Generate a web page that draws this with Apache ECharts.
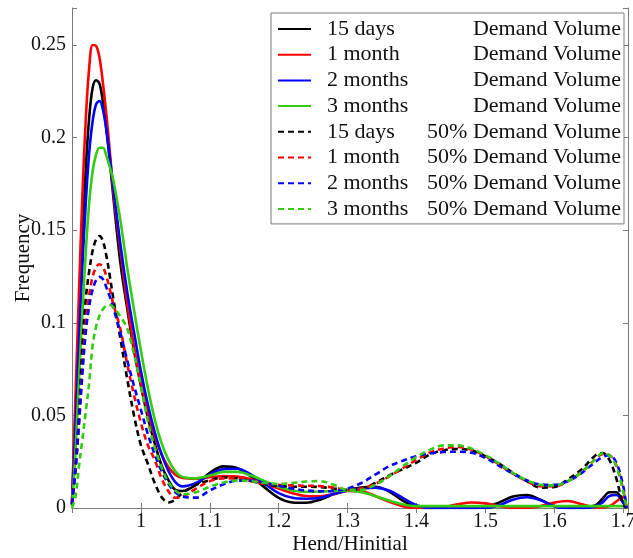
<!DOCTYPE html>
<html>
<head>
<meta charset="utf-8">
<script src="https://cdn.jsdelivr.net/npm/echarts@6/dist/echarts.min.js"></script>
<style>html,body{margin:0;padding:0;background:#fff}#c{width:633px;height:558px}</style>
</head>
<body>
<div id="c"></div>
<script>
const xs = [0.9,0.905,0.91,0.915,0.92,0.925,0.93,0.935,0.94,0.945,0.95,0.955,0.96,0.97,0.98,0.99,1.0,1.01,1.02,1.03,1.04,1.05,1.06,1.08,1.1,1.12,1.14,1.16,1.18,1.2,1.22,1.24,1.26,1.28,1.3,1.32,1.34,1.36,1.38,1.4,1.42,1.44,1.46,1.48,1.5,1.52,1.54,1.56,1.58,1.6,1.62,1.64,1.66,1.67,1.68,1.69,1.7,1.705];

const days15Full = [0.003,0.05,0.10,0.145,0.183,0.211,0.227,0.231,0.229,0.219,0.204,0.187,0.168,
  0.133,0.108,0.085,0.066,0.049,0.035,0.023,0.015,0.0098,0.0092,
  0.0125,0.019,0.0225,0.0215,0.017,0.011,0.0055,
  0.003,0.0028,0.0045,0.0075,0.0097,
  0.011,0.0115,0.009,0.004,0.0005,
  0,0,0,0,0.0005,
  0.003,0.0062,0.007,0.0045,0.001,
  0,0,0.0015,0.005,0.0085,0.0085,0.003,0];
const month1Full = [0.003,0.06,0.115,0.168,0.21,0.238,0.25,0.2495,0.243,0.229,0.212,0.192,0.171,
  0.140,0.111,0.087,0.068,0.052,0.039,0.029,0.022,0.018,0.0162,
  0.0158,0.0166,0.0173,0.017,0.0155,0.013,0.0105,
  0.008,0.0065,0.0063,0.0075,0.0092,
  0.009,0.0065,0.0035,0.001,0,
  0,0.0005,0.002,0.003,0.0025,
  0.001,0,0,0.001,0.003,
  0.0038,0.002,0.0003,0.0003,0.001,0.0035,0.006,0];
const months2Full = [0.002,0.042,0.088,0.13,0.165,0.192,0.209,0.218,0.2198,0.215,0.204,0.189,0.173,
  0.143,0.117,0.095,0.074,0.056,0.041,0.029,0.020,0.014,0.0117,
  0.0135,0.018,0.021,0.0212,0.018,0.013,0.008,
  0.0055,0.005,0.0055,0.0075,0.0095,
  0.0105,0.011,0.0095,0.0055,0.0015,
  0,0,0,0,0,
  0.0015,0.0045,0.0058,0.0042,0.001,
  0,0,0.0008,0.003,0.0065,0.007,0.003,0];
const months3Full = [0.001,0.03,0.068,0.105,0.138,0.165,0.182,0.191,0.1945,0.1945,0.19,0.184,0.177,
  0.156,0.130,0.107,0.085,0.065,0.048,0.035,0.026,0.0198,0.0168,
  0.016,0.0175,0.0195,0.0195,0.0175,0.0145,0.0115,
  0.0095,0.0088,0.0088,0.0092,0.0093,
  0.0085,0.0065,0.004,0.002,0.001,
  0.001,0.001,0.001,0.001,0.001,
  0.001,0.001,0.001,0.001,0.001,
  0.001,0.001,0.001,0.001,0.001,0.001,0.001,0];
const days15Half = [0.002,0.022,0.05,0.087,0.113,0.128,0.139,0.145,0.1469,0.144,0.136,0.125,0.113,
  0.092,0.070,0.050,0.034,0.024,0.0135,0.006,0.003,0.0045,0.008,
  0.0125,0.015,0.0165,0.016,0.0145,0.013,0.012,
  0.0115,0.0115,0.0113,0.0105,0.0098,
  0.0105,0.0135,0.0175,0.021,0.0245,
  0.029,0.0312,0.0319,0.031,0.028,
  0.024,0.019,0.0145,0.011,0.0113,
  0.0155,0.021,0.0285,0.0297,0.026,0.016,0.002,0];
const month1Half = [0.002,0.02,0.045,0.075,0.1,0.115,0.125,0.13,0.1316,0.13,0.125,0.118,0.110,
  0.097,0.078,0.061,0.046,0.034,0.026,0.016,0.009,0.0055,0.006,
  0.0105,0.0145,0.016,0.016,0.0145,0.013,0.0125,
  0.0122,0.012,0.0118,0.011,0.0098,
  0.0105,0.013,0.017,0.0215,0.026,
  0.030,0.0322,0.033,0.0315,0.028,
  0.0235,0.0185,0.0145,0.0118,0.0118,
  0.0145,0.0195,0.0265,0.029,0.0285,0.023,0.01,0];
const months2Half = [0.002,0.02,0.045,0.072,0.095,0.109,0.118,0.123,0.1248,0.1235,0.119,0.114,0.108,
  0.095,0.08,0.066,0.053,0.040,0.029,0.020,0.013,0.0085,0.0062,
  0.0056,0.0095,0.0128,0.0148,0.0148,0.0135,0.012,
  0.0105,0.0095,0.009,0.0092,0.0105,
  0.0135,0.018,0.0225,0.0255,0.028,
  0.0295,0.0302,0.0304,0.0298,0.027,
  0.0228,0.0185,0.015,0.0127,0.0125,
  0.0145,0.019,0.025,0.0275,0.0285,0.0245,0.012,0];
const months3Half = [0,0.006,0.022,0.037,0.052,0.068,0.088,0.098,0.104,0.1075,0.1093,0.1096,0.1085,
  0.1035,0.097,0.083,0.066,0.047,0.033,0.022,0.014,0.0095,0.0074,
  0.0085,0.0115,0.0138,0.0148,0.0145,0.0135,0.013,
  0.0135,0.0143,0.0145,0.0125,0.0098,
  0.0098,0.0125,0.017,0.0225,0.0275,
  0.0315,0.0338,0.0338,0.032,0.0285,
  0.024,0.019,0.015,0.0125,0.0122,
  0.0145,0.0195,0.0265,0.0295,0.0285,0.0225,0.009,0];

const periods = ['15 days', '1 month', '2 months', '3 months'];
const volumes = ['Demand Volume', '50% Demand Volume'];
const colors = ['#000000', '#ff0000', '#0000ff', '#33cc11'];
const seriesValues = [
  [days15Full, month1Full, months2Full, months3Full],
  [days15Half, month1Half, months2Half, months3Half]
];
const xTickLabels = ['1', '1.1', '1.2', '1.3', '1.4', '1.5', '1.6', '1.7'];
const yTickLabels = ['0', '0.05', '0.1', '0.15', '0.2', '0.25'];

const FONT = 'Liberation Serif';
const series = [];
volumes.forEach((vol, vi) => {
  periods.forEach((p, pi) => {
    series.push({
      name: p + '|' + vol,
      type: 'line',
      data: xs.map((x, i) => [x, seriesValues[vi][pi][i]]),
      smooth: 0.35,
      symbol: 'none',
      clip: true,
      lineStyle: { color: colors[pi], width: 2.6, type: vi === 0 ? 'solid' : [6, 4] },
      itemStyle: { color: colors[pi] },
      emphasis: { disabled: true }
    });
  });
});

function fmtX(v) {
  const s = String(Math.round(v * 10) / 10);
  return (Math.abs(v * 10 - Math.round(v * 10)) < 1e-6 && xTickLabels.indexOf(s) >= 0) ? s : '';
}
function fmtY(v) {
  const s = String(Math.round(v * 100) / 100);
  return (Math.abs(v * 20 - Math.round(v * 20)) < 1e-6 && yTickLabels.indexOf(s) >= 0) ? s : '';
}

const axisLineStyle = { color: '#7a7a7a', width: 1 };
const chart = echarts.init(document.getElementById('c'), null, { renderer: 'canvas' });
chart.setOption({
  animation: false,
  backgroundColor: '#fff',
  grid: { left: 72, right: 5, top: 8, bottom: 50, containLabel: false, outerBoundsMode: 'none' },
  xAxis: [{
    type: 'value', min: 0.9, max: 1.707, interval: 0.1,
    name: 'Hend/Hinitial', nameLocation: 'middle', nameGap: 26, nameMoveOverlap: false,
    nameTextStyle: { fontFamily: FONT, fontSize: 21, color: '#111' },
    axisLine: { show: true, lineStyle: axisLineStyle },
    axisTick: { show: true, inside: true, length: 5, lineStyle: axisLineStyle },
    axisLabel: { fontFamily: FONT, fontSize: 20, color: '#111', margin: 4, formatter: fmtX },
    splitLine: { show: false }
  }, {
    type: 'value', min: 0.9, max: 1.707, interval: 0.1, position: 'top',
    axisLine: { show: true, lineStyle: axisLineStyle },
    axisTick: { show: true, inside: true, length: 5, lineStyle: axisLineStyle },
    axisLabel: { show: false }, splitLine: { show: false }
  }],
  yAxis: [{
    type: 'value', min: 0, max: 0.27, interval: 0.05,
    name: 'Frequency', nameLocation: 'middle', nameGap: 38, nameMoveOverlap: false,
    nameTextStyle: { fontFamily: FONT, fontSize: 21, color: '#111' },
    axisLine: { show: true, lineStyle: axisLineStyle },
    axisTick: { show: true, inside: true, length: 5, lineStyle: axisLineStyle },
    axisLabel: { fontFamily: FONT, fontSize: 20, color: '#111', margin: 6, formatter: fmtY },
    splitLine: { show: false }
  }, {
    type: 'value', min: 0, max: 0.27, interval: 0.05, position: 'right',
    axisLine: { show: true, lineStyle: axisLineStyle },
    axisTick: { show: true, inside: true, length: 5, lineStyle: axisLineStyle },
    axisLabel: { show: false }, splitLine: { show: false }
  }],
  legend: {
    orient: 'vertical', left: 271, top: 13,
    padding: [5, 3, 4, 6],
    itemWidth: 33, itemHeight: 14, itemGap: 3.7,
    backgroundColor: '#fff', borderColor: '#7a7a7a', borderWidth: 1,
    selectedMode: false,
    itemStyle: { opacity: 0 },
    data: series.map(s => s.name),
    formatter: name => {
      const parts = name.split('|');
      return '{s| }{p|' + parts[0] + '}{v|' + parts[1] + '}';
    },
    textStyle: {
      fontFamily: FONT, fontSize: 22, color: '#111', lineHeight: 22,
      rich: {
        s: { width: 11, fontFamily: FONT, fontSize: 22, lineHeight: 22 },
        p: { width: 92, fontFamily: FONT, fontSize: 22, lineHeight: 22, color: '#111' },
        v: { width: 202, align: 'right', fontFamily: FONT, fontSize: 22, lineHeight: 22, color: '#111' }
      }
    }
  },
  series: series
});
</script>
</body>
</html>
